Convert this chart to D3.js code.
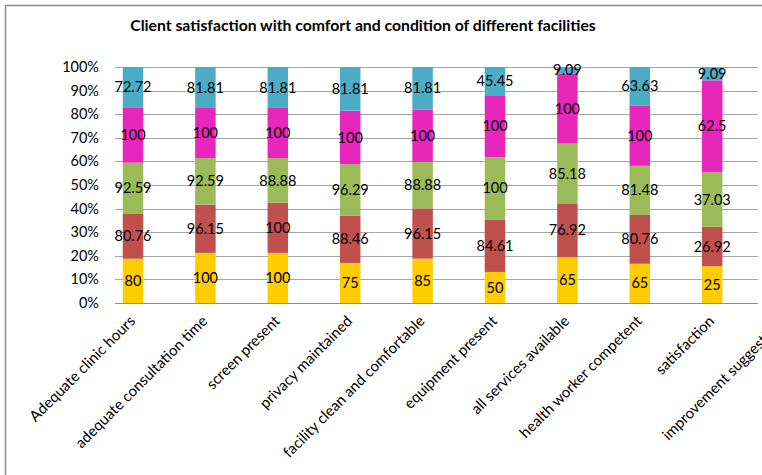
<!DOCTYPE html>
<html><head><meta charset="utf-8">
<script src="https://cdn.jsdelivr.net/npm/d3@7"></script>
<style>
html,body{margin:0;padding:0;background:#fff;}
svg{display:block;}
</style></head>
<body>
<svg id="chart" width="762" height="475"></svg>
<script>
const categories = ["Adequate clinic hours","adequate consultation time","screen present","privacy maintained","facility clean and comfortable","equipment present","all services available","health worker competent","satisfaction","improvement suggestions"];
const seriesNames = ["s1","s2","s3","s4","s5"];
const s1 = [80,100,100,75,85,50,65,65,25,0];
const s2 = [80.76,96.15,100,88.46,96.15,84.61,76.92,80.76,26.92,0];
const s3 = [92.59,92.59,88.88,96.29,88.88,100,85.18,81.48,37.03,0];
const s4 = [100,100,100,100,100,100,100,100,62.5,0];
const s5 = [72.72,81.81,81.81,81.81,81.81,45.45,9.09,63.63,9.09,0];
const yTicks = [0,0.1,0.2,0.3,0.4,0.5,0.6,0.7,0.8,0.9,1];
const title = "Client satisfaction with comfort and condition of different facilities";
const colors = ["#FFCC00","#C0504D","#9BBB59","#E926BC","#4BACC6"];

const svg = d3.select("#chart");
const FONT = "Lato, 'Liberation Sans', sans-serif";

// border
svg.append("line").attr("x1",5.5).attr("x2",762).attr("y1",5.5).attr("y2",5.5).attr("stroke","#8c8c8c").attr("stroke-width",1.5);
svg.append("line").attr("x1",5.5).attr("x2",5.5).attr("y1",5.5).attr("y2",475).attr("stroke","#8c8c8c").attr("stroke-width",1.5);

const table = categories.map((c,i)=>({cat:c, s1:s1[i], s2:s2[i], s3:s3[i], s4:s4[i], s5:s5[i]}));
const stack = d3.stack().keys(seriesNames).offset(d3.stackOffsetExpand);
const layers = stack(table);

const y = d3.scaleLinear().domain([0,1]).range([303,67]);
const x = d3.scalePoint().domain(categories).range([96.8,820.8]).padding(0.5);
const barW = x.step()*0.283;

// gridlines
svg.append("g").selectAll("line").data(yTicks).join("line")
  .attr("x1",115).attr("x2",758)
  .attr("y1",d=>Math.round(y(d))+0.5).attr("y2",d=>Math.round(y(d))+0.5)
  .attr("stroke",(d)=>d===0?"#8c8c8c":"#a6a6a6").attr("stroke-width",1.2);

// y labels
svg.append("g").selectAll("text").data(yTicks).join("text")
  .attr("x",99).attr("y",d=>y(d)).attr("dy","0.35em")
  .attr("text-anchor","end").attr("font-family",FONT).attr("font-size",14.5)
  .attr("fill","#000").text(d=>d3.format(".0%")(d));

// bars
const g = svg.append("g");
layers.forEach((layer,li)=>{
  const valid = layer.filter(d=>isFinite(d[0])&&isFinite(d[1]));
  g.append("g").selectAll("rect").data(valid).join("rect")
    .attr("x",d=>x(d.data.cat)-barW/2).attr("width",barW)
    .attr("y",d=>y(d[1])).attr("height",d=>y(d[0])-y(d[1]))
    .attr("fill",colors[li]);
});
layers.forEach((layer,li)=>{
  const valid = layer.filter(d=>isFinite(d[0])&&isFinite(d[1]));
  g.append("g").selectAll("text").data(valid).join("text")
    .attr("x",d=>x(d.data.cat)).attr("y",d=>y((d[0]+d[1])/2)).attr("dy","0.35em")
    .attr("text-anchor","middle").attr("font-family",FONT).attr("font-size",14.5)
    .attr("fill","#000").text(d=>d.data[layer.key]);
});

// category labels
svg.append("g").selectAll("text").data(categories).join("text")
  .attr("transform",d=>`translate(${x(d)+3},${322}) rotate(-45)`)
  .attr("text-anchor","end").attr("font-family",FONT).attr("font-size",15)
  .attr("fill","#000").text(d=>d);

// title
const t = svg.append("text").attr("x",363).attr("y",31).attr("text-anchor","middle")
  .attr("font-family",FONT).attr("font-weight","bold").attr("font-size",17)
  .attr("fill","#000").text(title);
const w = t.node().getComputedTextLength();
t.attr("font-size",17*466/w);
</script>
</body></html>
